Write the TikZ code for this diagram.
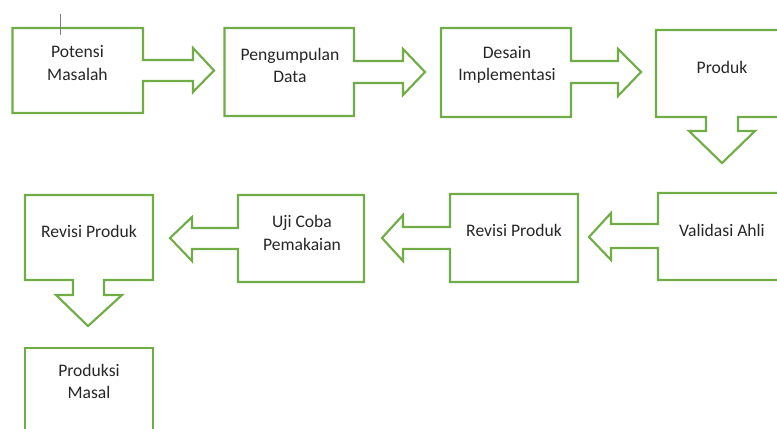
\documentclass[tikz,border=0pt]{standalone}
\usepackage{fontspec}
\setmainfont{Carlito}
\usepackage{xcolor}
\usetikzlibrary{positioning}
\definecolor{officegreen}{RGB}{112,173,71}
\tikzset{callout/.style={draw=officegreen, line width=1.6pt, line join=miter},
         label text/.style={align=center, inner sep=0pt, text=black!85,
           font=\fontsize{13.2}{16.8}\selectfont}}

\begin{document}
\begin{tikzpicture}[x=0.75pt, y=-0.75pt]
            \useasboundingbox (0,0) rectangle (777,428);
            \clip (0,0) rectangle (777,428);
            \draw[callout] (12.5,28) -- (143,28) -- (143,60) -- (193,60) -- (193,48) -- (214,70.5) -- (193,92) -- (193,81) -- (143,81) -- (143,113) -- (12.5,113) -- cycle;
            \draw[callout] (224.5,28) -- (354,28) -- (354,61) -- (403,61) -- (403,49) -- (425,72) -- (403,95) -- (403,83) -- (354,83) -- (354,116) -- (224.5,116) -- cycle;
            \draw[callout] (441,28) -- (571,28) -- (571,61) -- (618,61) -- (618,49) -- (641,72) -- (618,96) -- (618,83) -- (571,83) -- (571,117) -- (441,117) -- cycle;
            \draw[callout] (656,30) -- (788,30) -- (788,117) -- (738,117) -- (738,131) -- (755,131) -- (722,163) -- (689,131) -- (706,131) -- (706,117) -- (656,117) -- cycle;
            \draw[callout] (658,193) -- (790,193) -- (790,280) -- (658,280) -- (658,248) -- (611,248) -- (611,260) -- (589,237) -- (611,213) -- (611,224) -- (658,224) -- cycle;
            \draw[callout] (450,194) -- (578,194) -- (578,282) -- (450,282) -- (450,249) -- (403,249) -- (403,261) -- (382,238) -- (403,215) -- (403,227) -- (450,227) -- cycle;
            \draw[callout] (238,195) -- (364,195) -- (364,282) -- (238,282) -- (238,249) -- (192,249) -- (192,261) -- (170,238) -- (192,217) -- (192,228) -- (238,228) -- cycle;
            \draw[callout] (25,195) -- (153,195) -- (153,280) -- (104,280) -- (104,295) -- (122,295) -- (88,326) -- (56,295) -- (73,295) -- (73,280) -- (25,280) -- cycle;
            \draw[callout] (25,348) -- (153,348) -- (153,440) -- (25,440) -- cycle;
            \draw[gray, line width=0.6pt] (60,14) -- (60,35);
            \node[label text] (potensi) at (77.5,63) {Potensi\\Masalah};
            \node[label text] (pengumpulan) at (290,65.5) {Pengumpulan\\Data};
            \node[label text] (desain) at (507,65) {Desain\\Implementasi};
            \node[label text] (produk) at (722,67) {Produk};
            \node[label text] (validasi) at (722,230) {Validasi Ahli};
            \node[label text] (revisi) at (514,230) {Revisi Produk};
            \node[label text] (ujicoba) at (302,233) {Uji Coba\\Pemakaian};
            \node[label text] (revisiakhir) at (89,231) {Revisi Produk};
            \node[label text] (produksi) at (89,381.5) {Produksi\\Masal};
        \end{tikzpicture}
\end{document}
